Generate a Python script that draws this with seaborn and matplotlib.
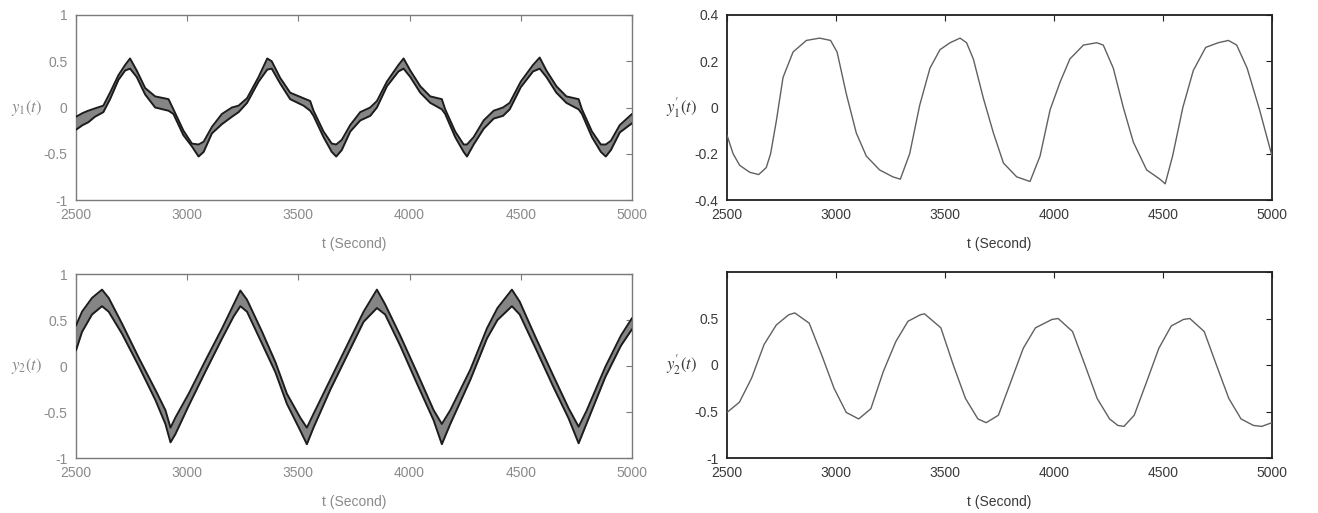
import matplotlib
matplotlib.use("Agg")
import matplotlib.pyplot as plt
import numpy as np
import pandas as pd
import seaborn as sns

# ---- top-left: y1(t) envelope (time, lower edge, upper edge) ----
y1_t = [2500, 2530, 2555, 2585, 2623, 2653, 2691, 2721, 2743, 2773, 2811, 2856,
        2916, 2938, 2983, 3021, 3051, 3074, 3111, 3156, 3201, 3231, 3269, 3321,
        3360, 3380, 3418, 3463, 3523, 3553, 3568, 3613, 3650, 3670, 3695, 3733,
        3778, 3823, 3853, 3898, 3950, 3973, 4003, 4048, 4093, 4145, 4160, 4205,
        4243, 4258, 4288, 4333, 4378, 4420, 4450, 4500, 4555, 4585, 4615, 4660,
        4705, 4760, 4775, 4820, 4860, 4882, 4905, 4945, 5000]
y1_lo = [-0.24, -0.19, -0.16, -0.10, -0.05, 0.09, 0.30, 0.40, 0.42, 0.33, 0.14, 0.00,
         -0.035, -0.07, -0.30, -0.42, -0.53, -0.48, -0.28, -0.18, -0.10, -0.05, 0.05, 0.28,
         0.41, 0.42, 0.26, 0.09, 0.02, -0.035, -0.09, -0.32, -0.48, -0.53, -0.46, -0.26,
         -0.14, -0.09, 0.00, 0.23, 0.39, 0.42, 0.33, 0.16, 0.05, -0.02, -0.07, -0.32,
         -0.48, -0.53, -0.40, -0.23, -0.12, -0.09, -0.02, 0.22, 0.39, 0.42, 0.33, 0.16,
         0.05, -0.02, -0.07, -0.32, -0.48, -0.53, -0.46, -0.27, -0.17]
y1_hi = [-0.10, -0.06, -0.035, -0.01, 0.02, 0.16, 0.35, 0.46, 0.53, 0.40, 0.21, 0.12,
         0.09, -0.02, -0.25, -0.39, -0.40, -0.37, -0.21, -0.07, 0.00, 0.02, 0.10, 0.33,
         0.53, 0.50, 0.32, 0.16, 0.10, 0.07, -0.035, -0.26, -0.39, -0.40, -0.35, -0.19,
         -0.05, 0.00, 0.07, 0.28, 0.46, 0.53, 0.40, 0.23, 0.12, 0.09, -0.02, -0.26,
         -0.40, -0.40, -0.32, -0.14, -0.035, 0.00, 0.05, 0.28, 0.46, 0.54, 0.40, 0.23,
         0.12, 0.09, -0.02, -0.26, -0.40, -0.40, -0.36, -0.19, -0.07]

# ---- bottom-left: y2(t) envelope ----
y2_t = [2500, 2527, 2572, 2617, 2647, 2707, 2782, 2857, 2902, 2925, 2947, 3007,
        3082, 3157, 3209, 3239, 3269, 3337, 3397, 3448, 3508, 3538, 3568, 3643,
        3718, 3793, 3853, 3890, 3958, 4033, 4108, 4145, 4183, 4273, 4348, 4395,
        4460, 4495, 4565, 4645, 4715, 4760, 4795, 4880, 4950, 5000]
y2_lo = [0.17, 0.37, 0.56, 0.65, 0.59, 0.35, 0.00, -0.37, -0.63, -0.83, -0.74, -0.43,
         -0.06, 0.30, 0.54, 0.65, 0.59, 0.24, -0.07, -0.41, -0.70, -0.85, -0.67, -0.26,
         0.11, 0.48, 0.63, 0.56, 0.22, -0.19, -0.59, -0.85, -0.63, -0.15, 0.30, 0.50,
         0.65, 0.56, 0.20, -0.22, -0.57, -0.84, -0.63, -0.12, 0.22, 0.40]
y2_hi = [0.44, 0.59, 0.74, 0.83, 0.74, 0.46, 0.09, -0.26, -0.48, -0.67, -0.56, -0.30,
         0.06, 0.41, 0.67, 0.82, 0.72, 0.37, 0.04, -0.30, -0.56, -0.67, -0.52, -0.15,
         0.22, 0.59, 0.83, 0.67, 0.33, -0.07, -0.48, -0.63, -0.48, -0.04, 0.41, 0.63,
         0.83, 0.70, 0.32, -0.10, -0.46, -0.66, -0.49, -0.01, 0.33, 0.52]

# ---- top-right: y1'(t) ----
y1p_t = [2500, 2528, 2558, 2604, 2645, 2680, 2700, 2726, 2757, 2803, 2864, 2925,
         2975, 3005, 3047, 3093, 3139, 3200, 3261, 3295, 3338, 3384, 3431, 3477,
         3523, 3569, 3599, 3630, 3676, 3722, 3768, 3829, 3890, 3936, 3982, 4028,
         4073, 4135, 4196, 4226, 4272, 4318, 4364, 4425, 4486, 4510, 4544, 4591,
         4639, 4696, 4753, 4800, 4838, 4886, 4943, 5000]
y1p_v = [-0.12, -0.20, -0.25, -0.28, -0.29, -0.26, -0.20, -0.06, 0.13, 0.24, 0.29, 0.30,
         0.29, 0.24, 0.06, -0.11, -0.21, -0.27, -0.30, -0.31, -0.20, 0.01, 0.17, 0.25,
         0.28, 0.30, 0.28, 0.21, 0.04, -0.11, -0.24, -0.30, -0.32, -0.21, -0.01, 0.11,
         0.21, 0.27, 0.28, 0.27, 0.17, 0.00, -0.15, -0.27, -0.31, -0.33, -0.21, 0.00,
         0.16, 0.26, 0.28, 0.29, 0.27, 0.17, -0.01, -0.21]

# ---- bottom-right: y2'(t) ----
y2p_t = [2500, 2557, 2613, 2670, 2726, 2783, 2811, 2877, 2934, 2991, 3047, 3104,
         3160, 3217, 3274, 3330, 3387, 3406, 3481, 3538, 3594, 3651, 3689, 3745,
         3802, 3859, 3915, 3991, 4019, 4085, 4142, 4198, 4255, 4293, 4321, 4368,
         4425, 4481, 4538, 4594, 4623, 4689, 4745, 4802, 4858, 4915, 4953, 5000]
y2p_v = [-0.51, -0.40, -0.14, 0.22, 0.43, 0.54, 0.56, 0.45, 0.11, -0.25, -0.51, -0.58,
         -0.47, -0.07, 0.25, 0.47, 0.54, 0.55, 0.40, 0.00, -0.36, -0.58, -0.62, -0.54,
         -0.18, 0.18, 0.40, 0.49, 0.50, 0.36, 0.00, -0.36, -0.58, -0.65, -0.66, -0.54,
         -0.18, 0.18, 0.42, 0.49, 0.50, 0.36, 0.00, -0.36, -0.58, -0.65, -0.66, -0.62]

# ---- axis ticks and labels ----
x_ticks = [2500, 3000, 3500, 4000, 4500, 5000]
x_tick_labels = ["2500", "3000", "3500", "4000", "4500", "5000"]
unit_ticks = [-1, -0.5, 0, 0.5, 1]
unit_tick_labels = ["-1", "-0.5", "0", "0.5", "1"]
unit_tick_labels_br = ["-1", "-0.5", "0", "0.5", ""]
small_ticks = [-0.4, -0.2, 0, 0.2, 0.4]
small_tick_labels = ["-0.4", "-0.2", "0", "0.2", "0.4"]
x_label = "t (Second)"

sns.set_theme(style="white")
plt.rcParams["font.family"] = ["Liberation Sans", "DejaVu Sans"]
plt.rcParams["mathtext.fontset"] = "stix"

W, H = 1318, 513
fig = plt.figure(figsize=(W / 100, H / 100), dpi=100)
fig.patch.set_facecolor("white")

ax_tl = fig.add_axes([76 / W, 1 - 200 / H, 556 / W, 185 / H])
ax_tr = fig.add_axes([727 / W, 1 - 200 / H, 545 / W, 185 / H])
ax_bl = fig.add_axes([76 / W, 1 - 458 / H, 556 / W, 184 / H])
ax_br = fig.add_axes([727 / W, 1 - 458 / H, 545 / W, 186 / H])


def draw_band(ax, t, lo, hi):
    ax.fill_between(t, lo, hi, color="#858585", lw=0, zorder=2)
    df = pd.DataFrame({"t": t, "lo": lo, "hi": hi})
    sns.lineplot(data=df, x="t", y="lo", ax=ax, color="#1c1c1c", lw=1.4,
                 sort=False, zorder=3)
    sns.lineplot(data=df, x="t", y="hi", ax=ax, color="#1c1c1c", lw=1.4,
                 sort=False, zorder=3)


def draw_line(ax, t, v):
    df = pd.DataFrame({"t": t, "v": v})
    sns.lineplot(data=df, x="t", y="v", ax=ax, color="#606060", lw=1.0,
                 sort=False, zorder=3)


def style_axes(ax, yticks, ylabels, ylabel, text_color, frame_color, frame_lw):
    ax.set_xlim(2500, 5000)
    ax.set_ylim(yticks[0], yticks[-1])
    ax.set_xticks(x_ticks)
    ax.set_xticklabels(x_tick_labels)
    ax.set_yticks(yticks)
    ax.set_yticklabels(ylabels)
    ax.tick_params(direction="in", length=4, width=0.8, top=True, right=True,
                   labelsize=10, labelcolor=text_color, color=frame_color, pad=6)
    for s in ax.spines.values():
        s.set_visible(True)
        s.set_color(frame_color)
        s.set_linewidth(frame_lw)
    ax.set_xlabel(x_label, fontsize=10, color=text_color)
    ax.xaxis.set_label_coords(0.5, -0.2)
    ax.set_ylabel(ylabel, fontsize=12, color=text_color, rotation=0,
                  va="center", ha="center")
    ax.set_facecolor("white")


draw_band(ax_tl, y1_t, y1_lo, y1_hi)
draw_band(ax_bl, y2_t, y2_lo, y2_hi)
draw_line(ax_tr, y1p_t, y1p_v)
draw_line(ax_br, y2p_t, y2p_v)

style_axes(ax_tl, unit_ticks, unit_tick_labels, r"$y_1(t)$", "#8a8a8a", "#7a7a7a", 1.0)
style_axes(ax_bl, unit_ticks, unit_tick_labels, r"$y_2(t)$", "#8a8a8a", "#7a7a7a", 1.0)
style_axes(ax_tr, small_ticks, small_tick_labels, r"$y_1^{\prime}(t)$", "#3a3a3a", "#202020", 1.3)
style_axes(ax_br, unit_ticks, unit_tick_labels_br, r"$y_2^{\prime}(t)$", "#3a3a3a", "#202020", 1.3)

ax_tl.yaxis.set_label_coords(-0.088, 0.5)
ax_bl.yaxis.set_label_coords(-0.088, 0.5)
ax_tr.yaxis.set_label_coords(-0.083, 0.5)
ax_br.yaxis.set_label_coords(-0.083, 0.5)

fig.savefig("out.png", dpi=100, facecolor="white")
